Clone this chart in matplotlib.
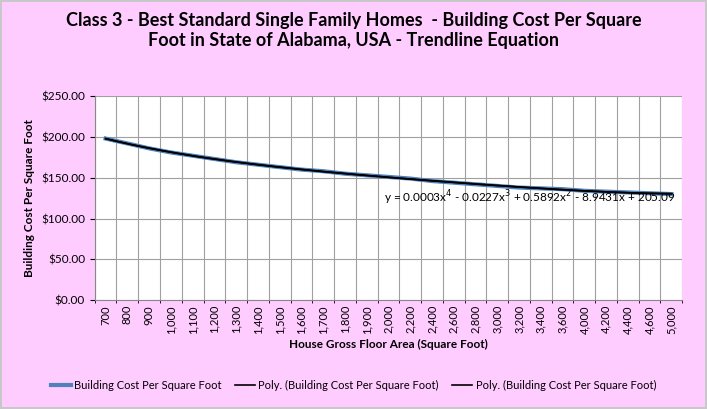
import numpy as np
import matplotlib
matplotlib.use("Agg")
import matplotlib.pyplot as plt
from matplotlib.ticker import FuncFormatter

plt.rcParams['font.family'] = ['Lato', 'DejaVu Sans']

# house gross floor area categories and cost per sq ft
areas = [700, 800, 900, 1000, 1100, 1200, 1300, 1400, 1500, 1600, 1700, 1800, 1900, 2000,
         2200, 2400, 2600, 2800, 3000, 3200, 3400, 3600, 4000, 4200, 4400, 4600, 5000]
cost = [198, 192, 186, 181, 177, 173, 169, 166, 163, 160, 158, 155, 153, 151,
        149, 146, 144, 142, 140, 138, 137, 136, 134, 133, 132, 131, 130]
equation = "y = 0.0003x$^4$ - 0.0227x$^3$ + 0.5892x$^2$ - 8.9431x + 205.09"

x = np.arange(len(areas))
coef = np.polyfit(x + 1, cost, 4)
xs = np.linspace(0, len(areas) - 1, 300)
trend = np.polyval(coef, xs + 1)

fig = plt.figure(figsize=(7.07, 4.09), dpi=100)
fig.patch.set_facecolor('#FFCCFF')
fig.patch.set_edgecolor('#C8C8C8')
fig.patch.set_linewidth(1.5)
ax = fig.add_axes([0.134, 0.266, 0.831, 0.499])

ax.plot(x, cost, color='#4F81BD', lw=3, label='Building Cost Per Square Foot')
ax.plot(xs, trend, color='black', lw=1.2, label='Poly. (Building Cost Per Square Foot)')
ax.plot(xs, trend, color='black', lw=1.2, label='Poly. (Building Cost Per Square Foot)')

ax.set_xlim(-0.5, len(areas) - 0.5)
ax.set_ylim(0, 250)
ax.set_yticks(np.arange(0, 251, 50))
ax.yaxis.set_major_formatter(FuncFormatter(lambda v, p: '${:,.2f}'.format(v)))
ax.set_xticks(x)
ax.set_xticklabels(['{:,}'.format(a) for a in areas], rotation=90, fontsize=8)
ax.tick_params(axis='x', length=0)
ax.tick_params(axis='y', labelsize=8.5)
ax.set_xticks(np.arange(-0.5, len(areas), 0.5), minor=True)
ax.grid(True, which='minor', axis='x', color='#A0A0A0', lw=0.8)
ax.grid(True, which='major', axis='y', color='#A0A0A0', lw=0.8)
ax.set_axisbelow(True)
for s in ['top', 'right']:
    ax.spines[s].set_visible(False)
for s in ['left', 'bottom']:
    ax.spines[s].set_color('#888888')

ax.text(len(areas) - 0.8, 125, equation, ha='right', va='center', fontsize=8.5)

ax.set_xlabel('House Gross Floor Area (Square Foot)', fontsize=8.5, fontweight='bold')
ax.set_ylabel('Building Cost Per Square Foot', fontsize=8.5, fontweight='bold')
fig.suptitle('Class 3 - Best Standard Single Family Homes  - Building Cost Per Square\nFoot in State of Alabama, USA - Trendline Equation',
             fontsize=13, fontweight='bold', y=0.97)
fig.legend(loc='lower center', ncol=3, frameon=False, fontsize=8,
           bbox_to_anchor=(0.5, 0.02), handlelength=1.8, columnspacing=1.2,
           handletextpad=0.3)

fig.savefig('out.png', facecolor=fig.get_facecolor(), edgecolor=fig.get_edgecolor())
